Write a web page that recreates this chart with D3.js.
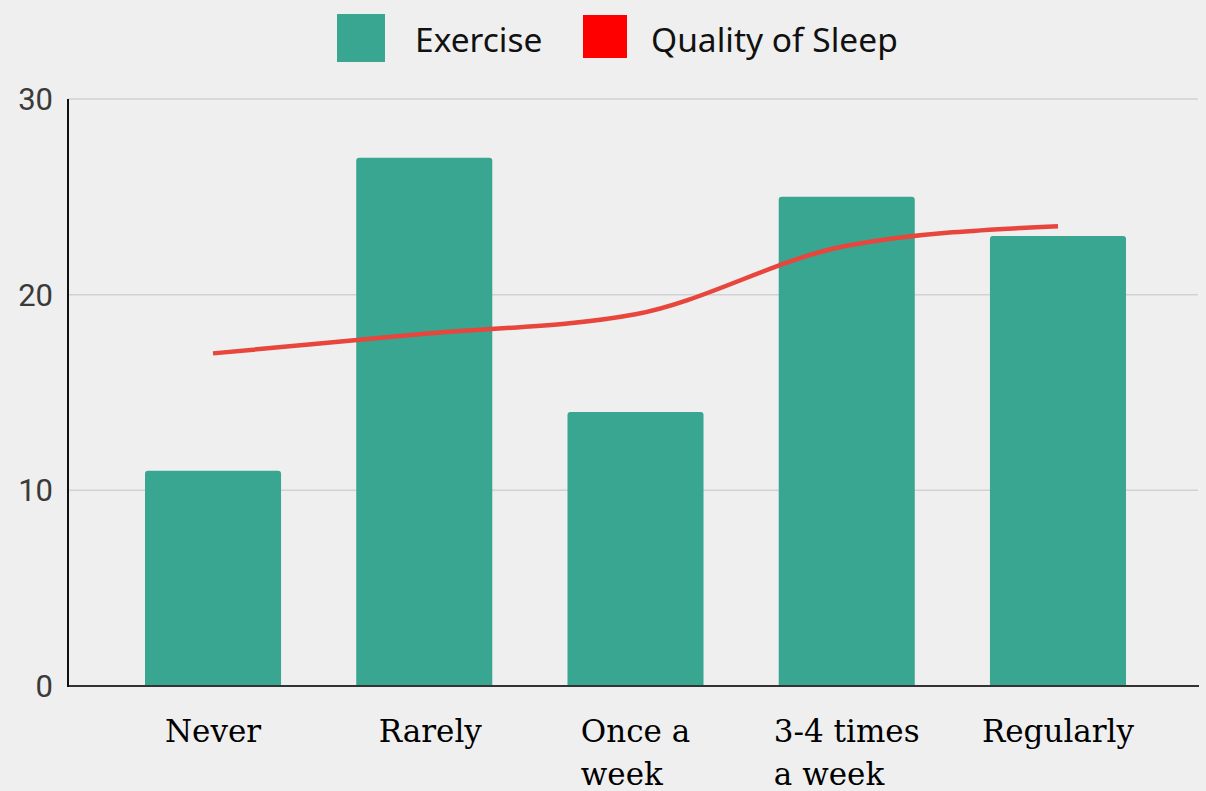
<!DOCTYPE html>
<html>
<head>
<meta charset="utf-8">
<script src="https://cdn.jsdelivr.net/npm/d3@7"></script>
<style>
  html, body { margin: 0; padding: 0; background: #efefef; }
  svg { display: block; }
</style>
</head>
<body>
<svg id="chart" width="1206" height="791"></svg>
<script>
// Exercise frequency vs. reported sleep quality
const categories = ["Never", "Rarely", "Once a week", "3-4 times a week", "Regularly"];
const categoryLines = [["Never"], ["Rarely"], ["Once a", "week"], ["3-4 times", "a week"], ["Regularly"]];
const exerciseValues = [11, 27, 14, 25, 23];
const sleepQualityValues = [17, 18, 19, 22.5, 23.5];
const yTicks = [0, 10, 20, 30];
const seriesNames = ["Exercise", "Quality of Sleep"];

const plot = { left: 68, right: 1198, top: 99, bottom: 686 };
const barColor = "#38a690";
const lineColor = "#e8453c";
const legendRed = "#ff0000";

const svg = d3.select("#chart");

const x = d3.scaleBand()
  .domain(categories)
  .range([107.4, 1163.6])
  .paddingInner(0.356)
  .paddingOuter(0.178);

const y = d3.scaleLinear().domain([0, 30]).range([plot.bottom, plot.top]);

// horizontal gridlines
svg.append("g")
  .selectAll("line")
  .data(yTicks.filter(d => d > 0))
  .join("line")
  .attr("x1", plot.left).attr("x2", plot.right)
  .attr("y1", d => y(d)).attr("y2", d => y(d))
  .attr("stroke", "#d2d2d2").attr("stroke-width", 1.5);

// y tick labels
svg.append("g")
  .selectAll("text")
  .data(yTicks)
  .join("text")
  .attr("x", 53)
  .attr("y", d => y(d))
  .attr("dy", "0.36em")
  .attr("text-anchor", "end")
  .attr("font-family", "Roboto, sans-serif")
  .attr("font-size", 31)
  .attr("fill", "#3a3a3a")
  .text(d => d);

// bars with slightly rounded top corners
const r = 3;
function barPath(d, i) {
  const x0 = x(categories[i]), w = x.bandwidth();
  const yTop = y(d), yBot = y(0);
  return `M${x0},${yBot}V${yTop + r}Q${x0},${yTop} ${x0 + r},${yTop}` +
         `H${x0 + w - r}Q${x0 + w},${yTop} ${x0 + w},${yTop + r}V${yBot}Z`;
}
svg.append("g")
  .selectAll("path")
  .data(exerciseValues)
  .join("path")
  .attr("d", barPath)
  .attr("fill", barColor);

// axes lines
svg.append("line")
  .attr("x1", plot.left).attr("x2", plot.right + 1)
  .attr("y1", y(0)).attr("y2", y(0))
  .attr("stroke", "#333").attr("stroke-width", 2);
svg.append("line")
  .attr("x1", plot.left).attr("x2", plot.left)
  .attr("y1", plot.top).attr("y2", y(0) + 1)
  .attr("stroke", "#111").attr("stroke-width", 2);

// smoothed sleep-quality line
const line = d3.line()
  .x((d, i) => x(categories[i]) + x.bandwidth() / 2)
  .y(d => y(d))
  .curve(d3.curveMonotoneX);
svg.append("path")
  .datum(sleepQualityValues)
  .attr("d", line)
  .attr("fill", "none")
  .attr("stroke", lineColor)
  .attr("stroke-width", 4.5)
  .attr("stroke-linecap", "butt");

// category labels (multi-line, left-aligned block centred under each bar)
const xLabels = svg.append("g")
  .attr("font-family", "'DejaVu Serif', serif")
  .attr("font-size", 31)
  .attr("fill", "#000");
categoryLines.forEach((lines, i) => {
  const cx = x(categories[i]) + x.bandwidth() / 2 + (i === 1 ? 6 : 0);
  const t = xLabels.append("text").attr("text-anchor", "start");
  lines.forEach((ln, j) => {
    t.append("tspan").attr("y", 742 + j * 43).text(ln);
  });
  const spans = t.selectAll("tspan").nodes();
  const maxW = d3.max(spans, n => n.getComputedTextLength());
  t.selectAll("tspan").attr("x", cx - maxW / 2);
});

// legend
const legend = svg.append("g")
  .attr("font-family", "'Noto Sans', 'Open Sans', sans-serif")
  .attr("font-size", 33.5)
  .attr("fill", "#111");
legend.append("rect").attr("x", 337).attr("y", 14).attr("width", 48).attr("height", 48).attr("fill", barColor);
legend.append("text").attr("x", 415).attr("y", 52).text(seriesNames[0]);
legend.append("rect").attr("x", 583).attr("y", 15).attr("width", 44).attr("height", 43).attr("fill", legendRed);
legend.append("text").attr("x", 651).attr("y", 52).text(seriesNames[1]);
</script>
</body>
</html>
